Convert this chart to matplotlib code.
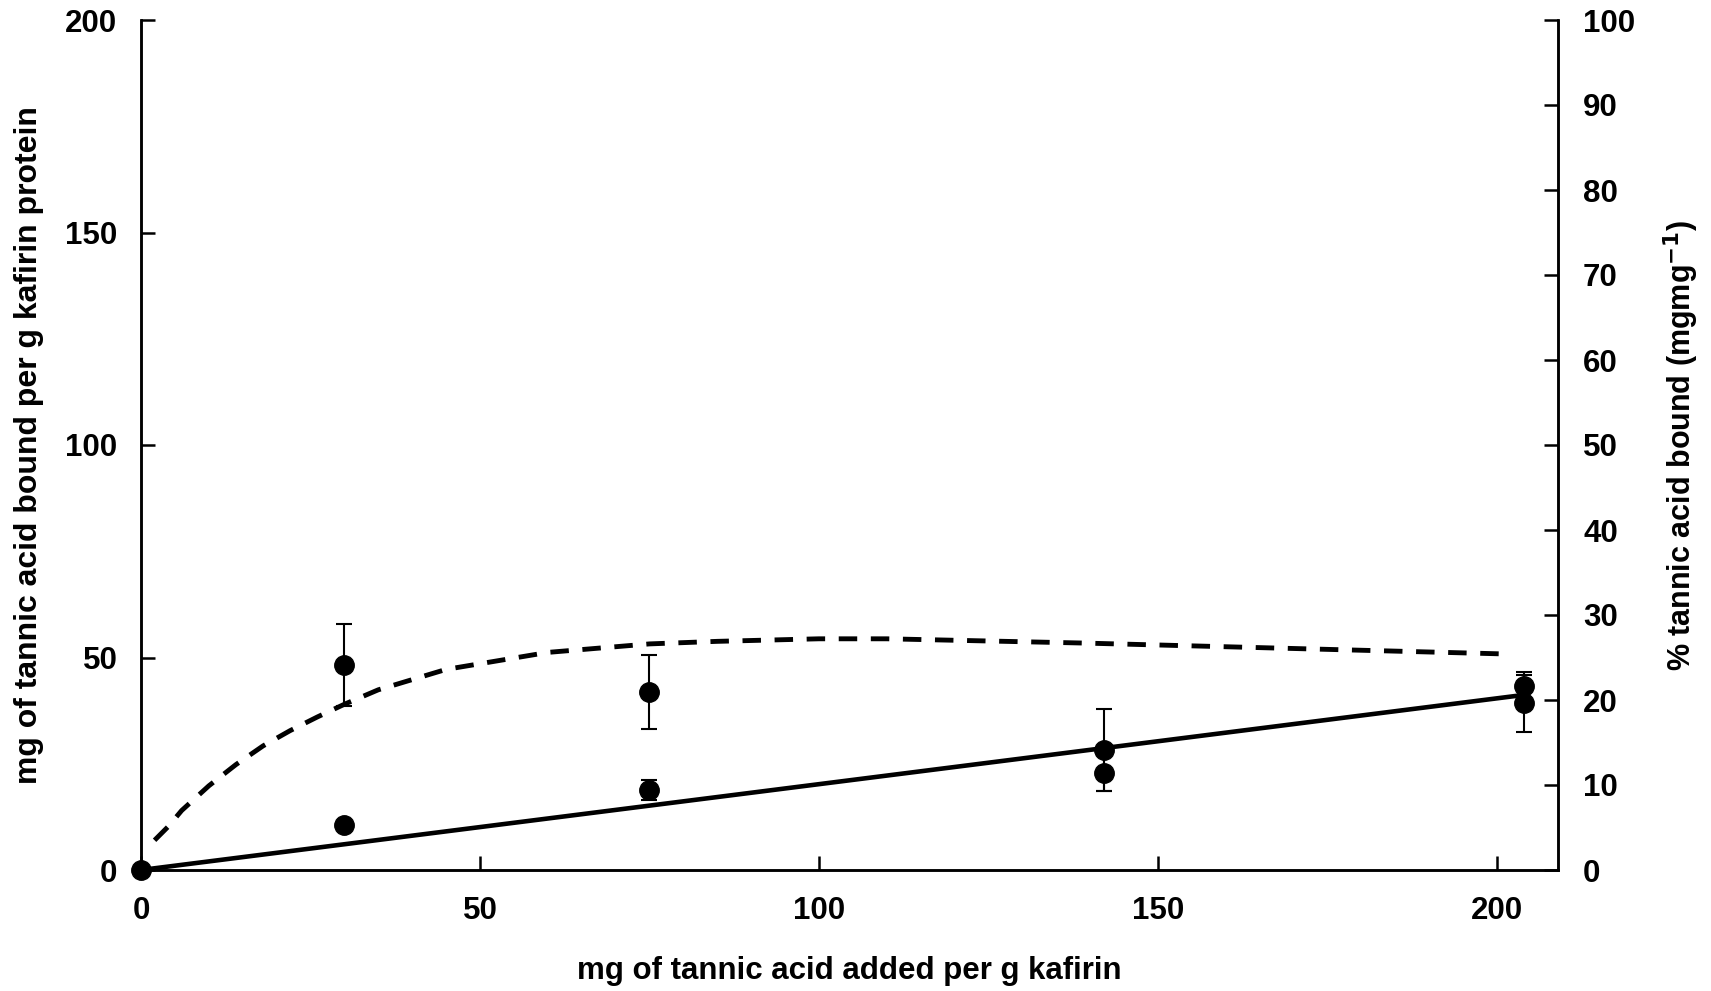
import matplotlib
matplotlib.use("Agg")
import matplotlib.pyplot as plt

plt.rcParams['font.family'] = ['Liberation Sans', 'DejaVu Sans']
plt.rcParams['font.weight'] = 'bold'

# Data
added = [0, 30, 75, 142, 204]
mg_bound = [0, 10.6, 18.8, 22.8, 43.3]
mg_bound_err = [0, 0, 2.3, 4.2, 3.3]

pct_x = [30, 75, 142, 204]
pct_bound = [24.1, 20.95, 14.1, 19.6]
pct_bound_err = [4.8, 4.4, 4.85, 3.35]

fit_x = [0, 204]
fit_y = [0, 41.2]

curve_x = [2, 4, 6, 10, 14, 18, 22, 26, 30, 35, 45, 60, 75, 85, 100, 110, 139, 168, 202]
curve_y = [3.5, 5.1, 7.0, 9.9, 12.4, 14.6, 16.4, 18.0, 19.5, 21.2, 23.6, 25.6, 26.6,
           26.9, 27.2, 27.2, 26.7, 26.1, 25.4]

xticks = [0, 50, 100, 150, 200]
yticks_left = [0, 50, 100, 150, 200]
yticks_right = list(range(0, 101, 10))

W, H = 1711, 991
fig = plt.figure(figsize=(W / 100, H / 100), dpi=100)
ax = fig.add_axes([141 / W, 1 - 870 / H, (1558 - 141) / W, (870 - 20) / H])
ax2 = ax.twinx()

ax.set_xlim(0, 209)
ax.set_ylim(0, 200)
ax2.set_ylim(0, 100)

# fitted line and curve
ax.plot(fit_x, fit_y, color='black', lw=3.3, solid_capstyle='butt', zorder=3)
ax2.plot(curve_x, curve_y, color='black', lw=3.5, linestyle=(0, (3.8, 2.8)),
         dash_capstyle='butt', zorder=3)

ax.errorbar(added, mg_bound, yerr=mg_bound_err, fmt='o', color='black',
            markersize=14, elinewidth=1.5, capsize=6, capthick=1.5,
            clip_on=False, zorder=5)
ax2.errorbar(pct_x, pct_bound, yerr=pct_bound_err, fmt='o', color='black',
             markersize=14, elinewidth=1.5, capsize=6, capthick=1.5,
             clip_on=False, zorder=5)

for a in (ax, ax2):
    a.spines['top'].set_visible(False)
    for s in a.spines.values():
        s.set_linewidth(1.8)

ax.set_xticks(xticks)
ax.set_yticks(yticks_left)
ax2.set_yticks(yticks_right)
ax.tick_params(axis='y', direction='in', length=10, width=1.8,
               labelsize=22.5, pad=17)
ax.tick_params(axis='x', direction='in', length=10, width=1.8,
               labelsize=22.5, pad=19)
ax2.tick_params(axis='y', direction='in', length=10, width=1.8,
                labelsize=22.5, pad=18)

ax.set_xlabel('mg of tannic acid added per g kafirin', fontsize=22.5,
              fontweight='bold', labelpad=21)
ax.set_ylabel('mg of tannic acid bound per g kafirin protein', fontsize=23,
              fontweight='bold', labelpad=15)
ax2.set_ylabel(r'% tannic acid bound (mgmg$^{\mathbf{-1}}$)', fontsize=22,
               fontweight='bold', labelpad=19)

fig.savefig('out.png', dpi=100)
